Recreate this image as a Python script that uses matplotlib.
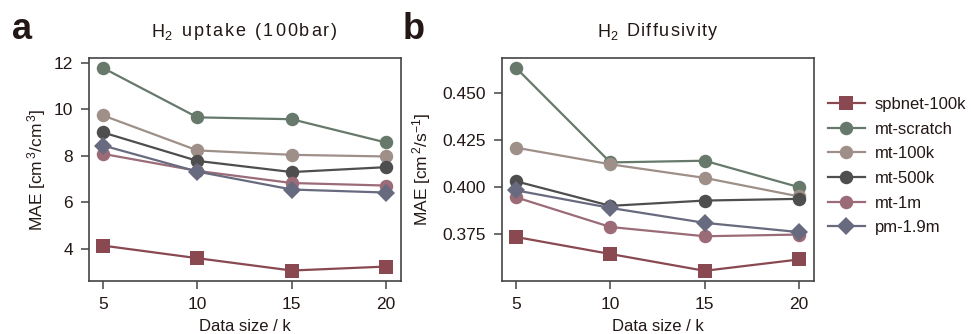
import matplotlib
matplotlib.use("Agg")
import matplotlib.pyplot as plt

plt.rcParams['font.family'] = ['Liberation Sans', 'DejaVu Sans']
plt.rcParams['mathtext.fontset'] = 'custom'
plt.rcParams['mathtext.rm'] = 'Liberation Sans'
plt.rcParams['mathtext.it'] = 'Liberation Sans:italic'

data_sizes = [5, 10, 15, 20]
series_names = ['spbnet-100k', 'mt-scratch', 'mt-100k', 'mt-500k', 'mt-1m', 'pm-1.9m']

uptake_spbnet = [4.14, 3.60, 3.07, 3.24]
uptake_scratch = [11.77, 9.65, 9.57, 8.57]
uptake_100k = [9.73, 8.23, 8.04, 7.97]
uptake_500k = [9.00, 7.78, 7.30, 7.51]
uptake_1m = [8.08, 7.35, 6.83, 6.72]
uptake_pm = [8.44, 7.32, 6.55, 6.42]

diff_spbnet = [0.3736, 0.3646, 0.3557, 0.3617]
diff_scratch = [0.4631, 0.4131, 0.4140, 0.4000]
diff_100k = [0.4209, 0.4121, 0.4049, 0.3951]
diff_500k = [0.4031, 0.3901, 0.3929, 0.3938]
diff_1m = [0.3946, 0.3789, 0.3740, 0.3749]
diff_pm = [0.3983, 0.3890, 0.3811, 0.3762]

colors = ['#8a4851', '#66796b', '#9f8f89', '#4e4e4e', '#9b6b77', '#686b7f']
markers = ['s', 'o', 'o', 'o', 'o', 'D']
msizes = [9.5, 9.7, 9.7, 9.7, 9.7, 9.0]

text_color = '#231815'
spine_color = '#444444'

W, H = 971, 334
fig = plt.figure(figsize=(W / 100, H / 100), dpi=100)
ax1 = fig.add_axes([89 / W, 1 - 281 / H, (401 - 89) / W, (281 - 58) / H])
ax2 = fig.add_axes([502 / W, 1 - 281 / H, (814 - 502) / W, (281 - 58) / H])

uptake = [uptake_spbnet, uptake_scratch, uptake_100k, uptake_500k, uptake_1m, uptake_pm]
diff = [diff_spbnet, diff_scratch, diff_100k, diff_500k, diff_1m, diff_pm]

handles = []
for ax, vals in [(ax1, uptake), (ax2, diff)]:
    for i, v in enumerate(vals):
        h, = ax.plot(data_sizes, v, color=colors[i], marker=markers[i],
                     markersize=msizes[i], linewidth=1.6, label=series_names[i],
                     markeredgewidth=0)
        if ax is ax1:
            handles.append(h)
    ax.set_xticks(data_sizes)
    ax.set_xlim(4.25, 20.8)
    for s in ax.spines.values():
        s.set_color(spine_color)
        s.set_linewidth(1.2)
    ax.tick_params(axis='both', direction='out', length=6, width=1.1,
                   color=spine_color, labelsize=12.5, labelcolor=text_color, pad=5.5)
    ax.set_xlabel('Data size / k', fontsize=12, color=text_color, labelpad=5)

ax1.set_ylim(2.62, 12.2)
ax1.set_yticks([4, 6, 8, 10, 12])
ax1.set_ylabel(r'MAE [cm$^{\,3}$/cm$^{\,3}$]', fontsize=12.5, color=text_color, labelpad=4)

ax2.set_ylim(0.3503, 0.4684)
ax2.set_yticks([0.375, 0.400, 0.425, 0.450])
ax2.set_yticklabels(['0.375', '0.400', '0.425', '0.450'])
ax2.set_ylabel(r'MAE [cm$^{\,2}$/s$^{-1}$]', fontsize=12.5, color=text_color, labelpad=7)

renderer = fig.canvas.get_renderer()


def spaced_text(pieces, xc_px, ybase_px, size, gap_px):
    widths = []
    texts = []
    for p in pieces:
        if p == ' ':
            texts.append(None)
            widths.append(0.278 * size * 100 / 72)
            continue
        t = fig.text(0, 0, p, fontsize=size, color=text_color, ha='left', va='baseline')
        bb = t.get_window_extent(renderer=renderer)
        texts.append(t)
        widths.append(bb.width)
    total = sum(widths) + gap_px * (len(pieces) - 1)
    x = xc_px - total / 2
    for t, w in zip(texts, widths):
        if t is not None:
            t.set_position((x / W, 1 - ybase_px / H))
        x += w + gap_px


title_a = ['H$_2$'] + list(' uptake (100bar)')
title_b = ['H$_2$'] + list(' Diffusivity')
spaced_text(title_a, 244, 36.5, 13, 2.0)
spaced_text(title_b, 657, 36.5, 13, 1.4)

fig.text(12 / W, 1 - 39 / H, 'a', fontsize=26, fontweight='bold', color=text_color)
fig.text(403 / W, 1 - 39 / H, 'b', fontsize=26, fontweight='bold', color=text_color)

fig.legend(handles=handles, loc='upper left', bbox_to_anchor=(828 / W, 1 - 97 / H),
           frameon=False, fontsize=12, handlelength=2.2, handletextpad=0.6,
           labelspacing=0.58, borderpad=0, borderaxespad=0, labelcolor=text_color)

fig.savefig('out.png', dpi=100)
